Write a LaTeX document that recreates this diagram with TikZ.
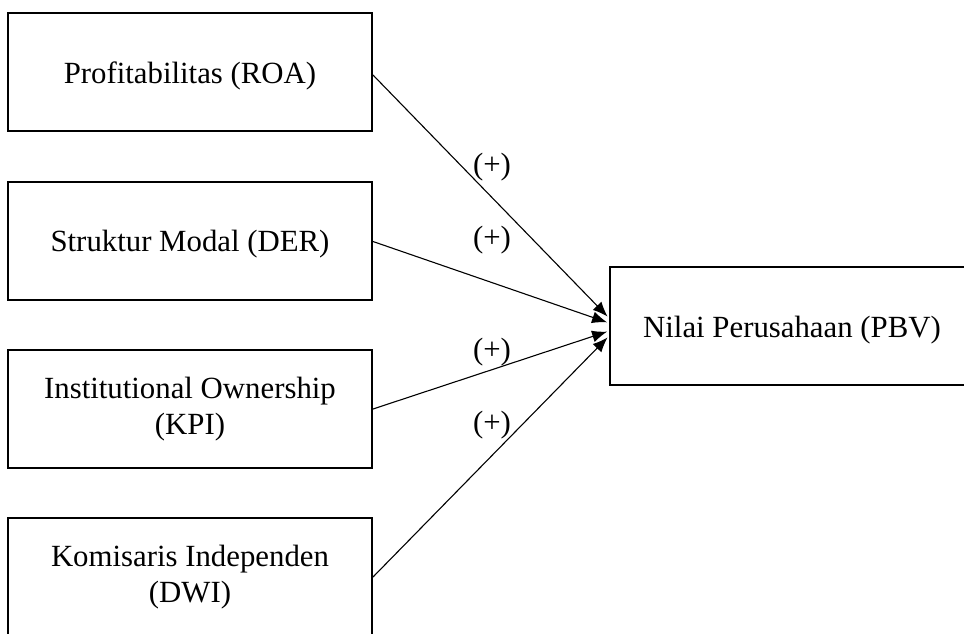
\documentclass[tikz,border=0pt]{standalone}
\usepackage{fontspec}
\setmainfont{Liberation Serif}
\usetikzlibrary{arrows.meta}
\newcommand{\lowertext}[1]{\raisebox{-2pt}[\height][\depth]{#1}}
\begin{document}
\begin{tikzpicture}[x=0.5pt,y=-0.5pt,
  varbox/.style={draw, line width=1pt, minimum width=182pt, minimum height=59pt, inner sep=0pt, align=center, font=\fontsize{15.4}{18}\selectfont},
  plus/.style={inner sep=0pt, font=\fontsize{15.4}{18}\selectfont},
  link/.style={line width=0.55pt, -{Latex[length=7.5pt,width=6pt]}, shorten >=1pt}]
\useasboundingbox (0,0) rectangle (964,633);
\clip (0,0) rectangle (964,633);
\node[varbox] (a1) at (190,72) {\lowertext{Profitabilitas (ROA)}};
\node[varbox] (a2) at (190,240.5) {\lowertext{Struktur Modal (DER)}};
\node[varbox] (a3) at (190,409) {Institutional Ownership\\(KPI)};
\node[varbox] (a4) at (190,577) {Komisaris Independen\\(DWI)};
\node[varbox] (rb) at (792,326) {\lowertext{Nilai Perusahaan (PBV)}};
\draw[link] ([yshift=-1.5pt]a1.east) -- ([yshift=4pt]rb.west);
\draw[link] ([yshift=-0.5pt]a2.east) -- ([yshift=1.5pt]rb.west);
\draw[link] (a3.east) -- ([yshift=-2.5pt]rb.west);
\draw[link] (a4.east) -- ([yshift=-5pt]rb.west);
\node[plus] (p1) at (492,167) {(+)};
\node[plus] (p2) at (492,240) {(+)};
\node[plus] (p3) at (492,352) {(+)};
\node[plus] (p4) at (492,425) {(+)};
\end{tikzpicture}
\end{document}
